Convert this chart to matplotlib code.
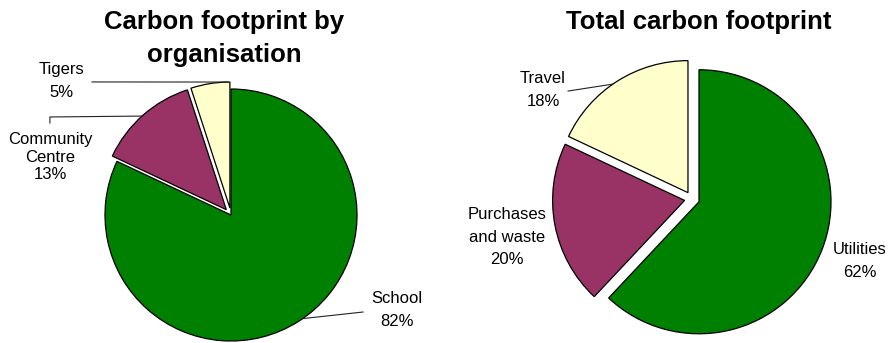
import numpy as np
import matplotlib.pyplot as plt

plt.rcParams['font.family'] = ['Liberation Sans', 'DejaVu Sans']

# carbon footprint split by organisation (%)
org_names = ['School', 'Community\nCentre', 'Tigers']
org_values = [82, 13, 5]
org_explode = [0, 0.056, 0.056]

# total footprint split by source (%)
src_names = ['Utilities', 'Purchases\nand waste', 'Travel']
src_values = [62, 20, 18]
src_explode = [0.057, 0.057, 0.057]

colors = ['#008000', '#993366', '#FFFFCC']

W, H = 891, 343
fig = plt.figure(figsize=(W / 100, H / 100), dpi=100)


def pie_axes(cx, cy, r, half=1.3):
    # axes centred on (cx, cy) pixels from the top-left, one data unit = r pixels
    size = 2 * half * r
    ax = fig.add_axes([(cx - half * r) / W, (H - cy - half * r) / H, size / W, size / H])
    ax.set_xlim(-half, half)
    ax.set_ylim(-half, half)
    ax.set_aspect('equal')
    ax.axis('off')
    return ax


def draw_pie(ax, values, explode):
    wedges, _ = ax.pie(values, colors=colors, explode=explode, startangle=90,
                       counterclock=False,
                       wedgeprops=dict(edgecolor='black', linewidth=0.9))
    ax.set_xlim(-1.3, 1.3)
    ax.set_ylim(-1.3, 1.3)
    ax.set_aspect('equal')
    return wedges


def edge_point(wedge, angle):
    cx, cy = wedge.center
    a = np.deg2rad(angle)
    return cx + wedge.r * np.cos(a), cy + wedge.r * np.sin(a)


def leader(ax, pts):
    xs, ys = zip(*pts)
    ax.plot(xs, ys, color='#222222', linewidth=0.8, clip_on=False)


def label(ax, x, y, name, v, spacing=1.6):
    ax.text(x, y, f'{name}\n{v}%', ha='center', va='center', fontsize=12,
            linespacing=spacing)


# left pie
ax1 = pie_axes(231, 215, 126)
w1 = draw_pie(ax1, org_values, org_explode)
org_pos = [(1.317, -0.754), (-1.437, 0.46), (-1.349, 1.063)]
org_spacing = [1.6, 1.2, 1.6]
for name, v, (x, y), s in zip(org_names, org_values, org_pos, org_spacing):
    label(ax1, x, y, name, v, s)
leader(ax1, [(1.048, -0.77), edge_point(w1[0], -55.3)])
leader(ax1, [(-1.437, 0.73), (-1.437, 0.778), edge_point(w1[1], 132)])
leader(ax1, [(-1.103, 1.056), edge_point(w1[2], 91)])

# right pie
ax2 = pie_axes(692, 199, 132)
w2 = draw_pie(ax2, src_values, src_explode)
src_pos = [(1.273, -0.47), (-1.402, -0.288), (-1.129, 0.826)]
for name, v, (x, y) in zip(src_names, src_values, src_pos):
    label(ax2, x, y, name, v)
leader(ax2, [(-0.939, 0.818), edge_point(w2[2], 124.7)])

title_kw = dict(ha='center', va='top', fontsize=18.5, fontweight='bold', linespacing=1.5)
fig.text(224 / W, 1 - 9.5 / H, 'Carbon footprint by\norganisation', **title_kw)
fig.text(699 / W, 1 - 10.5 / H, 'Total carbon footprint', **title_kw)

fig.savefig('out.png', dpi=100)
